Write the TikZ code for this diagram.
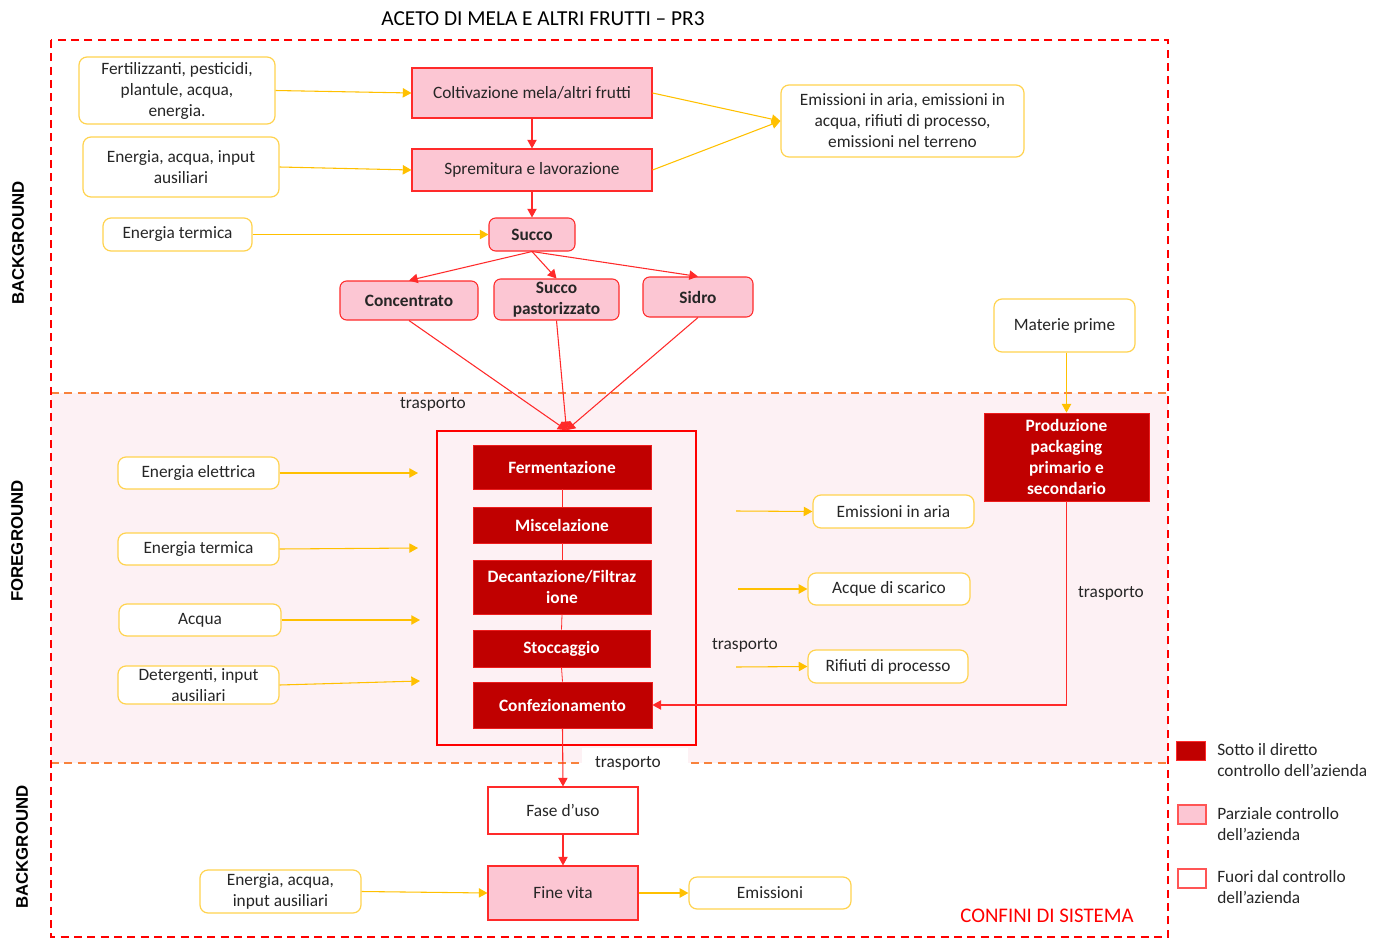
\documentclass[tikz,border=0pt]{standalone}
\usepackage{fontspec}
\setmainfont{Carlito}
\newfontfamily\lblfont{Liberation Sans}
\usetikzlibrary{arrows.meta}
\definecolor{txt}{HTML}{262626}
\definecolor{pinkc}{HTML}{FCC6D3}
\definecolor{redb}{HTML}{FF2A2A}
\definecolor{darkr}{HTML}{C00000}
\definecolor{ybord}{HTML}{FFD34F}
\definecolor{yarr}{HTML}{FFC000}
\definecolor{fgbg}{HTML}{FDF1F4}
\definecolor{orng}{HTML}{F8823C}
\tikzset{
  every node/.style={font=\fontsize{13}{15.75}\selectfont, text=txt},
  box/.style n args={4}{at={({(#1+#3)/2},{(#2+#4)/2})}, minimum width={(#3-#1)*0.75pt}, minimum height={(#4-#2)*0.75pt}},
  ybox/.style={draw=ybord, line width=0.9pt, fill=white, rounded corners=6pt, inner sep=0pt, align=center},
  pbox/.style={draw=redb, line width=0.8pt, fill=pinkc, inner sep=0pt, align=center},
  pboxr/.style={pbox, rounded corners=5pt, font=\fontsize{13}{15.75}\selectfont\bfseries},
  dbox/.style={draw=redb!70!darkr, line width=0.6pt, fill=darkr, text=white, inner sep=0pt, align=center, font=\fontsize{13}{15.75}\selectfont\bfseries},
  wbox/.style={draw=redb, line width=0.8pt, fill=white, inner sep=0pt, align=center},
  yarrow/.style={draw=yarr, line width=0.8pt, -{Triangle[length=6.5pt,width=7pt]}},
  rarrow/.style={draw=redb, line width=0.8pt, -{Triangle[length=6.5pt,width=7pt]}},
  rline/.style={draw=redb, line width=0.6pt},
  side/.style={font=\lblfont\fontsize{12.6}{14}\selectfont\bfseries, text=black, rotate=90},
}
\begin{document}
\begin{tikzpicture}[x=0.75pt,y=-0.75pt]
\useasboundingbox (0,0) rectangle (1388,938);
% regions
\fill[fgbg] (51,393) rectangle (1168,763);
\draw[orng, line width=0.9pt, dash pattern=on 6pt off 4pt] (51,393) -- (1168,393);
\draw[orng, line width=0.9pt, dash pattern=on 6pt off 4pt] (51,763) -- (1168,763);
\draw[red, line width=0.9pt, dash pattern=on 6pt off 4pt] (51,40) rectangle (1168,937);

\node[font=\fontsize{16}{18}\selectfont, text=black] (title) at (543,19) {ACETO DI MELA E ALTRI FRUTTI – PR3};
\node[side] (bg1) at (18,243) {BACKGROUND};
\node[side] (fg) at (17,541) {FOREGROUND};
\node[side] (bg2) at (22,847) {BACKGROUND};

% top part
\node[ybox, box={79}{57}{275}{124}] (fert) {Fertilizzanti, pesticidi,\\plantule, acqua,\\energia.};
\node[ybox, box={83}{137}{279}{197}] (eaux) {Energia, acqua, input\\ausiliari};
\node[ybox, box={103}{218}{252}{251}] (eterm) {Energia termica};
\node[pbox, box={412}{68}{652}{118}] (colt) {Coltivazione mela/altri frutti};
\node[pbox, box={412}{149}{652}{191}] (spre) {Spremitura e lavorazione};
\node[pboxr, box={489}{218}{575}{251}] (succo) {Succo};
\node[pboxr, box={340}{281}{478}{320}] (conc) {Concentrato};
\node[pboxr, box={494}{279}{619}{320}] (spast) {Succo\\pastorizzato};
\node[pboxr, box={643}{277}{753}{317}] (sidro) {Sidro};
\node[ybox, box={781}{85}{1024}{157}] (emis) {Emissioni in aria, emissioni in\\acqua, rifiuti di processo,\\emissioni nel terreno};
\node[ybox, box={994}{299}{1135}{352}] (mat) {Materie prime};

\draw[yarrow] (fert.east) -- (colt.west);
\draw[yarrow] (eaux.east) -- (spre.west);
\draw[yarrow] (eterm.east) -- (succo.west);
\draw[yarrow] (colt.east) -- (emis.west);
\draw[yarrow] (spre.east) -- (emis.west);
\draw[rarrow] (colt.south) -- (spre.north);
\draw[rarrow] (spre.south) -- (succo.north);
\draw[rarrow] (succo.south) -- (conc.north);
\draw[rarrow] (succo.south) -- (spast.north);
\draw[rarrow] (succo.south) -- (sidro.north);

% foreground
\node[draw=red, line width=1.2pt, inner sep=0pt, box={437}{431}{696}{745}] (big) {};
\node[dbox, box={473}{445}{651}{489}] (ferm) {Fermentazione};
\node[dbox, box={473}{507}{651}{543}] (misc) {Miscelazione};
\node[dbox, box={473}{560}{651}{614}] (dec) {Decantazione/Filtraz\\ione};
\node[dbox, box={473}{630}{650}{667}] (stoc) {Stoccaggio};
\node[dbox, box={473}{682}{652}{728}] (conf) {Confezionamento};
\draw[rline] (ferm.south) -- (misc.north);
\draw[rline] (misc.south) -- (dec.north);
\draw[rline] (dec.south) -- (stoc.north);
\draw[rline] (stoc.south) -- (conf.north);

\draw[rarrow] (conc.south) -- (big.north);
\draw[rarrow] (spast.south) -- (big.north);
\draw[rarrow] (sidro.south) -- (big.north);
\node (tr1) at (433,404) {trasporto};

\node[ybox, box={118}{457}{279}{489}] (eel) {Energia elettrica};
\node[ybox, box={118}{533}{279}{565}] (eter2) {Energia termica};
\node[ybox, box={119}{604}{281}{636}] (acq) {Acqua};
\node[ybox, box={118}{666}{279}{704}] (det) {Detergenti, input\\ausiliari};
\coordinate (in1) at (418,473);
\coordinate (in2) at (418,548);
\coordinate (in3) at (420,620);
\coordinate (in4) at (420,681);
\draw[yarrow] (eel.east) -- (in1);
\draw[yarrow] (eter2.east) -- (in2);
\draw[yarrow] (acq.east) -- (in3);
\draw[yarrow] (det.east) -- (in4);

\node[ybox, box={813}{495}{974}{528}] (eair) {Emissioni in aria};
\node[ybox, box={808}{573}{970}{605}] (acsc) {Acque di scarico};
\node[ybox, box={808}{650}{968}{683}] (rif) {Rifiuti di processo};
\coordinate (out1) at (736,511);
\coordinate (out2) at (738,589);
\coordinate (out3) at (736,667);
\draw[yarrow] (out1) -- (eair.west);
\draw[yarrow] (out2) -- (acsc.west);
\draw[yarrow] (out3) -- (rif.west);
\node (tr2) at (745,645) {trasporto};

\node[dbox, box={984}{413}{1149}{501}] (prod) {Produzione\\packaging\\primario e\\secondario};
\draw[yarrow] (prod.north |- mat.south) -- (prod.north);
\draw[rarrow] (prod.south) |- (conf.east);
\node (tr3) at (1111,593) {trasporto};

% bottom
\node[fill=white, box={582}{748}{688}{782}, inner sep=0pt] (tr4) {};
\node (tr4t) at (628,763) {trasporto};
\node[wbox, box={488}{787}{638}{834}] (fase) {Fase d’uso};
\node[pbox, box={488}{866}{638}{920}] (fine) {Fine vita};
\node[ybox, box={200}{870}{361}{913}] (eaux2) {Energia, acqua,\\input ausiliari};
\node[ybox, box={689}{877}{851}{909}] (emi2) {Emissioni};
\draw[rarrow] (conf.south) -- (fase.north);
\draw[rarrow] (fase.south) -- (fine.north);
\draw[yarrow] (eaux2.east) -- (fine.west);
\draw[yarrow] (fine.east) -- (emi2.west);
\node[text=red, font=\fontsize{15.6}{18}\selectfont] (conf2) at (1047,916) {CONFINI DI SISTEMA};

% legend
\node[fill=darkr, draw=redb, line width=0.6pt, inner sep=0pt, box={1176}{741}{1205}{760}] (l1) {};
\node[pbox, draw=redb!80, box={1178}{805}{1206}{824}] (l2) {};
\node[wbox, draw=redb!80, box={1178}{869}{1206}{888}] (l3) {};
\node[anchor=west, align=left, inner sep=0pt] (t1) at (1217,760.5) {Sotto il diretto\\controllo dell’azienda};
\node[anchor=west, align=left, inner sep=0pt] (t2) at (1217,824.5) {Parziale controllo\\dell’azienda};
\node[anchor=west, align=left, inner sep=0pt] (t3) at (1217,887.5) {Fuori dal controllo\\dell’azienda};
\end{tikzpicture}
\end{document}
